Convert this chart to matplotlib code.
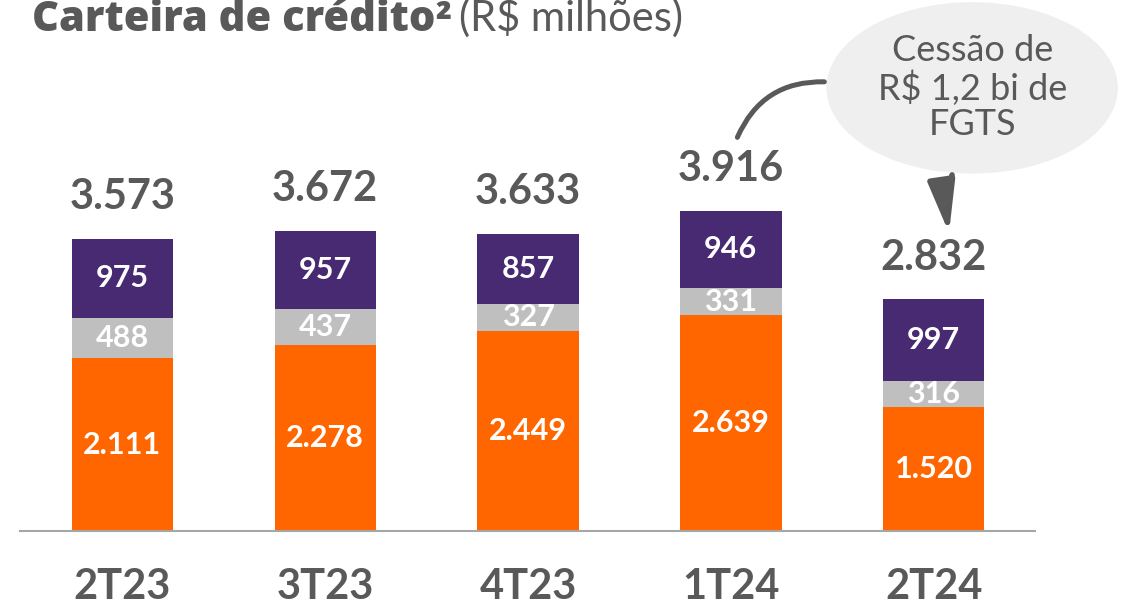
import matplotlib
matplotlib.use("Agg")
from matplotlib import pyplot as plt
from matplotlib.patches import Ellipse

quarters = ["2T23", "3T23", "4T23", "1T24", "2T24"]
orange_vals = [2111, 2278, 2449, 2639, 1520]
gray_vals = [488, 437, 327, 331, 316]
purple_vals = [975, 957, 857, 946, 997]
totals = [3573, 3672, 3633, 3916, 2832]

ORANGE = "#FF6600"
GRAY = "#BFBFBF"
PURPLE = "#472A71"
TXT = "#595959"


def br(v):
    return f"{v:,}".replace(",", ".")


plt.rcParams["font.family"] = ["Lato", "DejaVu Sans"]

fig = plt.figure(figsize=(11.3, 6.1), dpi=100)
ax = fig.add_axes([20 / 1130, 79 / 610, 1015 / 1130, 531 / 610])
x = list(range(len(quarters)))
w = 0.5

ax.bar(x, orange_vals, w, color=ORANGE)
b2 = [o for o in orange_vals]
ax.bar(x, gray_vals, w, bottom=b2, color=GRAY)
b3 = [o + g for o, g in zip(orange_vals, gray_vals)]
ax.bar(x, purple_vals, w, bottom=b3, color=PURPLE)

for i in x:
    ax.text(i, orange_vals[i] / 2, br(orange_vals[i]), ha="center", va="center",
            color="white", fontsize=22, fontweight="bold")
    ax.text(i, b2[i] + gray_vals[i] / 2, br(gray_vals[i]), ha="center", va="center",
            color="white", fontsize=22, fontweight="bold")
    ax.text(i, b3[i] + purple_vals[i] / 2, br(purple_vals[i]), ha="center", va="center",
            color="white", fontsize=22, fontweight="bold")
    top = b3[i] + purple_vals[i]
    ax.annotate(br(totals[i]), (i, top), xytext=(0, 30), textcoords="offset points",
                ha="center", va="center", color=TXT, fontsize=30, fontweight="bold")

ax.set_xlim(-0.505, 4.5)
ax.set_ylim(0, 6490)
ax.set_xticks(x)
ax.set_xticklabels(quarters, fontsize=30, fontweight="bold", color=TXT, va="center")
ax.tick_params(axis="x", length=0, pad=40)
ax.set_yticks([])
for s in ["top", "left", "right"]:
    ax.spines[s].set_visible(False)
ax.spines["bottom"].set_color("#A6A6A6")
ax.spines["bottom"].set_linewidth(1.5)

# callout
ell = Ellipse((4.19, 5416), 1.43, 2078, color="#EFEFEF", clip_on=False, zorder=3)
ax.add_patch(ell)
ax.text(4.19, 5416, "Cessão de\nR$ 1,2 bi de\nFGTS", ha="center", va="center",
        color=TXT, fontsize=26, linespacing=1.1, zorder=4, clip_on=False)
ax.annotate("", xy=(3.475, 5489), xytext=(3.027, 4780),
            arrowprops=dict(arrowstyle="-", color=TXT, lw=3.6,
                            connectionstyle="arc3,rad=-0.35"), zorder=4)
ax.annotate("", xy=(4.076, 3643), xytext=(4.091, 4352),
            arrowprops=dict(arrowstyle="-|>,head_length=1.55,head_width=0.41",
                            mutation_scale=20, color=TXT, lw=4,
                            shrinkA=0, shrinkB=0,
                            connectionstyle="arc3,rad=0.1"), zorder=4)

t1 = fig.text(32 / 1130, 1 - 31 / 610, "Carteira de crédito²", fontsize=30,
              fontweight="heavy", family=["Open Sans", "DejaVu Sans"],
              color=TXT, ha="left", va="baseline")
fig.canvas.draw()
bb = t1.get_window_extent()
fig.text((bb.x1 + 7) / 1130, 1 - 31 / 610, "(R$ milhões)", fontsize=30, color=TXT,
         ha="left", va="baseline")

fig.savefig("out.png", dpi=100)
